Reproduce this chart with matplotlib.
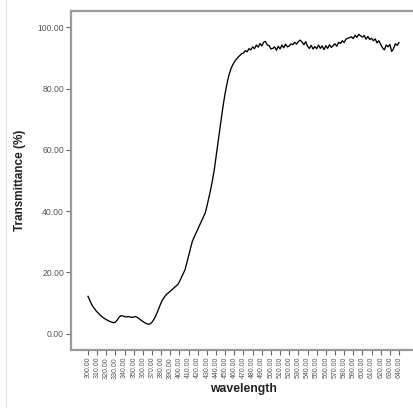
import matplotlib
matplotlib.use("Agg")
import matplotlib.pyplot as plt
from matplotlib.lines import Line2D

# Transmittance (%) per wavelength category
transmittance = [
    12.2, 10.9, 9.6, 8.6, 7.8, 7.1, 6.5, 5.9, 5.4,
    5.0, 4.6, 4.3, 4.0, 3.8, 3.6,
    3.8, 4.5, 5.4, 5.9,
    5.8, 5.6, 5.5, 5.6, 5.5, 5.3, 5.5, 5.6,
    5.3, 4.9, 4.4, 4.0, 3.6, 3.3, 3.1, 3.2,
    3.8, 4.7, 5.8, 7.2, 8.7, 10.2, 11.3, 12.2,
    12.9, 13.4, 13.9, 14.4, 15.0, 15.5, 16.0,
    17.0, 18.3, 19.6, 20.8,
    23.1, 25.5, 27.8, 30.1,
    31.5, 32.8, 34.1, 35.4, 36.7, 38.0, 39.3,
    41.6, 44.2, 46.9, 50.0, 53.4,
    57.8, 62.2, 66.5, 70.8,
    75.0, 78.6, 81.7,
    84.3, 86.2, 87.6, 88.7,
    89.5, 90.2, 90.8, 91.4,
    91.6, 92.4, 92.0, 93.0, 92.6,
    93.6, 93.0, 94.2, 93.5, 94.7, 93.9, 95.1,
    95.4, 94.2, 94.0, 92.9, 93.1, 93.6, 92.5,
    93.8, 92.9, 94.2, 93.3, 94.5, 93.6, 93.9, 94.6, 94.3,
    95.1, 94.5, 95.3, 95.8, 95.2,
    94.3, 95.3, 93.8, 93.1, 94.1, 92.9,
    93.7, 93.0, 94.2, 93.1, 93.9, 92.7, 94.0, 93.1, 94.3, 93.4, 94.0,
    94.6, 93.8, 95.1, 94.7, 95.6, 95.0, 96.1, 96.4, 96.6,
    96.9, 96.3, 97.4, 96.7, 97.7, 97.2,
    96.8, 97.3, 96.1, 97.0, 96.0, 96.4,
    95.6, 96.2, 94.9, 95.6, 94.4, 93.3, 92.6,
    94.2, 93.6, 94.4, 92.1, 93.0, 94.6, 94.1, 95.0,
]

# Wavelength category labels shown on the x axis (every 5th category)
wavelength_labels = [
    "300.00", "310.00", "320.00", "330.00", "340.00", "350.00", "360.00",
    "370.00", "380.00", "390.00", "400.00", "410.00", "420.00", "430.00",
    "440.00", "450.00", "460.00", "470.00", "480.00", "490.00", "500.00",
    "510.00", "520.00", "530.00", "540.00", "550.00", "560.00", "570.00",
    "580.00", "590.00", "600.00", "610.00", "620.00", "630.00", "640.00",
]
label_step = 5

y_ticks = [0, 20, 40, 60, 80, 100]
y_tick_labels = ["0.00", "20.00", "40.00", "60.00", "80.00", "100.00"]

W, H = 414, 408
fig = plt.figure(figsize=(W / 100, H / 100), dpi=100)
fig.patch.set_facecolor("white")

left, right, top, bottom = 71, 416, 11, 350
ax = fig.add_axes([left / W, 1 - bottom / H, (right - left) / W, (bottom - top) / H])

x = list(range(len(transmittance)))
ax.plot(x, transmittance, color="black", lw=0.95, solid_joinstyle="round")

ax.set_ylim(-5.3, 105.3)
ax.set_xlim(-9.3, 179.3)

ax.set_yticks(y_ticks)
ax.set_yticklabels(y_tick_labels, fontsize=6.2, color="#555555", family="Liberation Sans")

tick_pos = [i * label_step for i in range(len(wavelength_labels))]
ax.set_xticks(tick_pos)
ax.set_xticklabels(wavelength_labels, rotation=90, fontsize=5.0, color="#555555",
                   family="Liberation Sans")

ax.tick_params(axis="both", direction="out", length=3.5, width=0.8, color="#666666", pad=1.5)

for s in ["left", "bottom", "top"]:
    ax.spines[s].set_color("#9a9a9a")
    ax.spines[s].set_linewidth(1.6)
ax.spines["right"].set_visible(False)

ax.set_ylabel("Transmittance (%)", fontsize=8.5, fontweight="bold", family="Liberation Sans",
              color="#222222", labelpad=8)
ax.set_xlabel("wavelength", fontsize=8.8, fontweight="bold", family="Liberation Sans",
              color="#222222", labelpad=3)

# faint border line at the left edge of the picture
fig.add_artist(Line2D([6.5 / W, 6.5 / W], [0, 1], transform=fig.transFigure,
                      color="#e6e6e6", lw=1.0))

fig.savefig("out.png", dpi=100, facecolor="white")
